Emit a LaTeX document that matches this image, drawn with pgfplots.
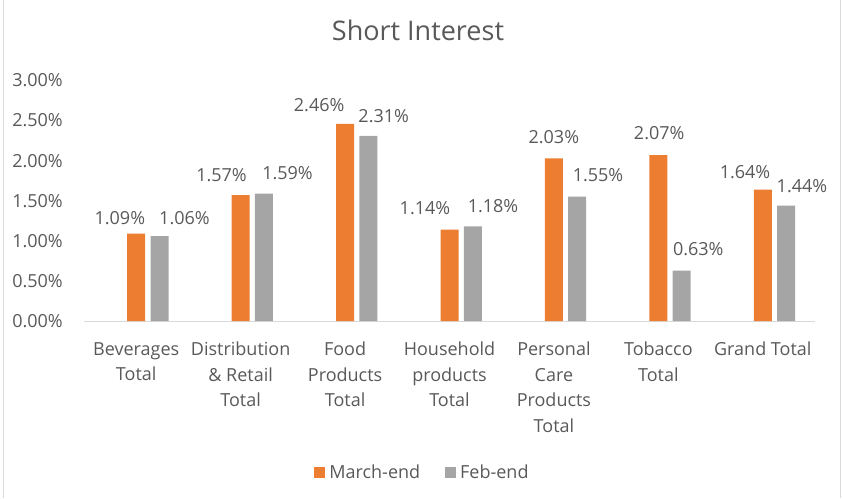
\documentclass[border=0pt]{standalone}
\usepackage{fontspec}
\setmainfont{Open Sans}
\usepackage{pgfplots}
\pgfplotsset{compat=1.18}
\usepackage{xcolor}
\definecolor{march}{HTML}{ED7D31}
\definecolor{feb}{HTML}{A5A5A5}
\definecolor{txt}{HTML}{595959}
\definecolor{axisgray}{HTML}{D9D9D9}
\newcommand{\lbl}{\fontsize{18}{25.5}\selectfont}
\pgfplotsset{/pgf/number format/assume math mode=true}
\begin{document}
\begin{tikzpicture}
\useasboundingbox (0,0) rectangle (843pt,-498pt);
\draw[color=axisgray, line width=1pt] (3.5pt,0) -- (3.5pt,-498pt);
\draw[color=axisgray, line width=1.2pt] (840.5pt,0) -- (840.5pt,-498pt);
\begin{axis}[
  at={(84pt,-321pt)}, anchor=south west,
  scale only axis,
  width=731pt, height=240.5pt,
  xmin=-0.5, xmax=6.5,
  ymin=0, ymax=3,
  clip=false,
  axis lines=left,
  axis line style={-},
  x axis line style={draw=axisgray, line width=1pt},
  y axis line style={draw=none},
  major tick length=0pt,
  ytick={0,0.5,...,3},
  yticklabel={\pgfmathprintnumber[fixed,fixed zerofill,precision=2]{\tick}\%},
  yticklabel style={anchor=east, inner sep=0pt, xshift=-21pt, font=\lbl, text=txt},
  xtick={0,...,6},
  xticklabels={{Beverages\\Total},{Distribution\\\& Retail\\Total},{Food\\Products\\Total},{Household\\products\\Total},{Personal\\Care\\Products\\Total},{Tobacco\\Total},{Grand Total}},
  xticklabel style={anchor=north, align=center, inner sep=0pt, yshift=-21pt, font=\lbl, text=txt},
  title={Short Interest},
  title style={at={(axis description cs:0.4569,1.1642)}, anchor=base, yshift=-5pt, inner sep=0pt, font=\fontsize{27}{32}\selectfont, text=txt},
  legend style={at={(axis description cs:0.463,-0.628)}, anchor=center, draw=none, fill=none,
    font=\lbl, text=txt, legend columns=2, inner sep=0pt,
    /tikz/every odd column/.append style={column sep=2pt},
    /tikz/every even column/.append style={column sep=23pt}},
  legend image code/.code={\fill[#1] (0pt,-5.5pt) rectangle (11pt,5.5pt);},
  legend cell align=left,
]
\addplot[ybar, bar width=0.1724, bar shift=0, fill=march, draw=none]
  coordinates {(0,1.09) (1,1.57) (2,2.46) (3,1.14) (4,2.03) (5,2.07) (6,1.64)};
\addlegendentry{March-end}
\addplot[ybar, bar width=0.1724, bar shift=0.223, fill=feb, draw=none]
  coordinates {(0,1.06) (1,1.59) (2,2.31) (3,1.18) (4,1.55) (5,0.63) (6,1.44)};
\addlegendentry{Feb-end}
% data labels, placed where the chart has them
\addplot[draw=none, forget plot, point meta=explicit,
  nodes near coords={\pgfmathprintnumber[fixed,fixed zerofill,precision=2]{\pgfplotspointmeta}\%},
  every node near coord/.style={anchor=base, inner sep=0pt, font=\lbl, text=txt}]
  table[meta=v] {
x y v
-0.157 1.201 1.09
0.817 1.738 1.57
1.752 2.619 2.46
2.765 1.326 1.14
3.999 2.218 2.03
5.008 2.258 2.07
5.830 1.781 1.64
};
\addplot[draw=none, forget plot, point meta=explicit,
  nodes near coords={\pgfmathprintnumber[fixed,fixed zerofill,precision=2]{\pgfplotspointmeta}\%},
  every node near coord/.style={anchor=base, inner sep=0pt, font=\lbl, text=txt}]
  table[meta=v] {
x y v
0.462 1.201 1.06
1.449 1.763 1.59
2.370 2.473 2.31
3.417 1.357 1.18
4.422 1.746 1.55
5.382 0.817 0.63
6.375 1.597 1.44
};
\end{axis}
\end{tikzpicture}
\end{document}
